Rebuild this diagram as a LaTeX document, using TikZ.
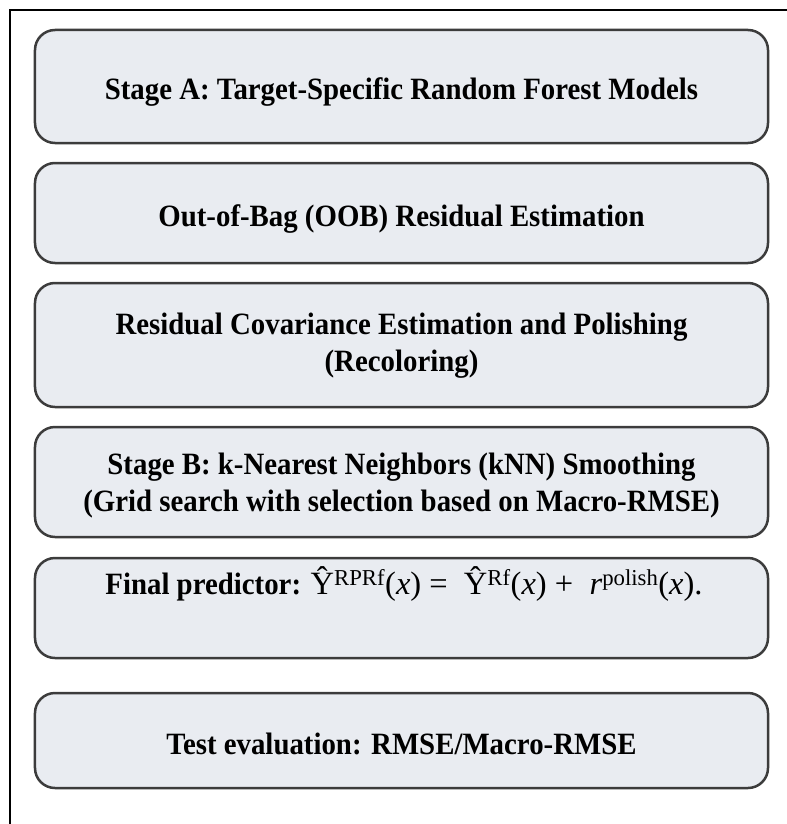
\documentclass[tikz,border=0pt]{standalone}
\usepackage{fontspec}
\setmainfont{Liberation Serif}[FakeStretch=0.93]
\newfontfamily\mathlike{Liberation Serif}
\definecolor{boxfill}{HTML}{E9ECF1}
\definecolor{boxline}{HTML}{3C3C3C}
\tikzset{
  stagebox/.style={draw=boxline, line width=2.5bp, fill=boxfill, rounded corners=20bp,
    minimum width=733bp, inner sep=0pt},
  boxtext/.style={inner sep=0pt, align=center, font=\fontsize{31bp}{37bp}\selectfont\bfseries},
  frameline/.style={draw=black, line width=2.2bp}
}
\begin{document}
\begin{tikzpicture}[x=1bp,y=-1bp]
\useasboundingbox (0,0) rectangle (787,824);
\coordinate (fbl) at (10,824);
\coordinate (ftl) at (10,10);
\coordinate (ftr) at (787,10);
\draw[frameline] (fbl) -- (ftl) -- (ftr);
\node[stagebox, minimum height=113bp] (b1) at (401.5,86.5) {};
\node[stagebox, minimum height=100bp] (b2) at (401.5,213) {};
\node[stagebox, minimum height=124bp] (b3) at (401.5,345) {};
\node[stagebox, minimum height=110bp] (b4) at (401.5,482) {};
\node[stagebox, minimum height=100bp] (b5) at (401.5,608) {};
\node[stagebox, minimum height=95bp] (b6) at (401.5,740.5) {};
\node[boxtext, anchor=base] (t1) at (401.5,99) {Stage A: Target-Specific Random Forest Models};
\node[boxtext, anchor=base] (t2) at (401.5,226) {Out-of-Bag (OOB) Residual Estimation};
\node[boxtext] (t3) at (401.5,346) {Residual Covariance Estimation and Polishing\\(Recoloring)};
\node[boxtext] (t4) at (401.5,486) {Stage B: k-Nearest Neighbors (kNN) Smoothing\\(Grid search with selection based on Macro-RMSE)};
\node[boxtext, anchor=base] (t5) at (404,594) {Final predictor: {\mathlike\mdseries\fontsize{32.5bp}{37bp}\selectfont Ŷ\textsuperscript{RPRf}(\textit{x}) =~~Ŷ\textsuperscript{Rf}(\textit{x}) +~~\textit{r}\textsuperscript{polish}(\textit{x}).}};
\node[boxtext, anchor=base] (t6) at (401.5,754) {Test evaluation: RMSE/Macro-RMSE};
\end{tikzpicture}
\end{document}
